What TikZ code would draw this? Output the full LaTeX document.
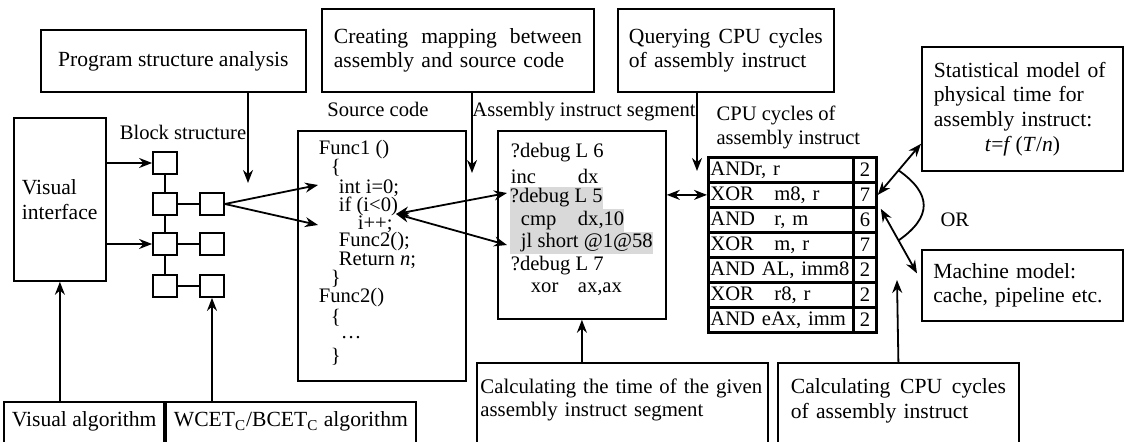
\documentclass[tikz,border=0pt]{standalone}
\usepackage{fontspec}
\setmainfont{Liberation Serif}
\usetikzlibrary{arrows.meta}
\definecolor{hlgray}{RGB}{217,217,217}

\begin{document}
\begin{tikzpicture}[x=0.5pt,y=-0.5pt,line width=0.9pt,
    >={Stealth[length=6.5pt,width=5pt]},
    font=\fontsize{10.3}{12}\selectfont]%[shorten >=1pt,->]

  \tikzstyle{box}=[draw,anchor=north west,inner xsep=4pt,inner ysep=0pt,
                   font=\fontsize{10.8}{12.3}\selectfont]
  \tikzstyle{openbox}=[box,text depth=50pt]
  \tikzstyle{blk}=[draw,minimum width=12pt,minimum height=11pt,inner sep=0pt]
  \tikzstyle{code}=[anchor=west,inner sep=0pt]
  \tikzstyle{hl}=[code,fill=hlgray,minimum height=11.3pt]
  \tikzstyle{cell}=[draw,line width=1.4pt,anchor=north west,
                    minimum height=12.5pt,inner sep=0pt]

  \useasboundingbox (0,0) rectangle (1125,442);

  % boxes
  \node[box,minimum width=132.5pt,minimum height=31pt] (psa) at (40,29)
    {Program structure analysis};
  \node[box,minimum width=136pt,minimum height=41.5pt,text width=124pt,
        align=left] (cm) at (321,8)
    {Creating\hfill mapping\hfill between\\assembly and source code};
  \node[box,minimum width=108pt,minimum height=41.5pt,text width=97pt,
        align=left] (qc) at (617,8)
    {Querying\hfill CPU\hfill cycles\\of assembly instruct};
  \node[box,minimum width=46pt,minimum height=81.5pt,text width=38pt,
        align=left] (vi) at (13,117) {Visual\\interface};
  \node[box,minimum width=84pt,minimum height=125pt] (sc) at (297,130) {};
  \node[box,minimum width=84pt,minimum height=94pt] (as) at (497,130) {};
  \node[box,minimum width=100.5pt,minimum height=62pt,text width=88.5pt,
        align=left] (sm) at (921,46)
    {Statistical model of\\physical time for\\assembly instruct:\\
     \makebox[88.5pt]{\textit{t}=\textit{f}\,(\textit{T}/\textit{n})}};
  \node[box,minimum width=100.5pt,minimum height=35.5pt,text width=89pt,
        align=left] (mm) at (921,249) {Machine model:\\cache, pipeline etc.};
  \node[openbox,inner ysep=5pt,minimum width=75.5pt] (va) at (3,401)
    {Visual algorithm};
  \node[openbox,inner ysep=5pt,minimum width=115.5pt] (wa) at (165,401)
    {WCET\textsubscript{C}/BCET\textsubscript{C} algorithm};
  \node[openbox,inner ysep=8pt,minimum width=145.5pt,text width=142pt,
        inner xsep=1.75pt,align=left,font=\fontsize{10.4}{11.6}\selectfont]
    (ct) at (476,362)
    {Calculating the time of the given\\assembly instruct segment};
  \node[openbox,inner ysep=8pt,minimum width=120.5pt,text width=107.5pt,
        align=left] (cc) at (777,362)
    {Calculating\hfill CPU\hfill cycles\\of assembly instruct};

  % labels
  \node (bs) at (183,132) {Block structure};
  \node (scl) at (378,109) {Source code};
  \node (asl) at (584,112) {Assembly instruct segment};
  \node[align=left,anchor=west] (cpl) at (709,127)
    {CPU cycles of\\assembly instruct};
  \node[anchor=west] (or) at (933,220) {OR};

  % block structure
  \foreach \name/\x/\y in {b-1/165/163, b-2/165/204, b-3/165/244, b-4/165/286,
                           c-2/212/204, c-3/212/244, c-4/212/286}
    \node[blk] (\name) at (\x,\y) {};
  \draw (b-1) -- (b-2) -- (b-3) -- (b-4);
  \foreach \i in {2,3,4}
    \draw (b-\i) -- (c-\i);

  % source code
  \foreach \name/\x/\y/\txt in {f1/318/150/{Func1 ()}, ob1/330/168/\{,
                                int/338/188/{int i=0;}, if/338/206/{if (i<0)},
                                inc/357/224/{i++;}, call/338/242/{Func2();},
                                ret/338/260/{Return \textit{n};}, cb1/330/279/\},
                                f2/318/298/{Func2()}, ob2/330/318/\{,
                                dots/340/338/\dots, cb2/330/357/\}}
    \node[code] (src-\name) at (\x,\y) {\txt};

  % assembly segment
  \foreach \name/\x/\y/\txt in {1/510/153/{?debug L 6},
                                2/510/176/{\makebox[33.5pt][l]{inc}dx},
                                6/510/266/{?debug L 7},
                                7/530/289/{\makebox[23.5pt][l]{xor}ax,ax}}
    \node[code] (asm-\name) at (\x,\y) {\txt};
  \foreach \name/\y/\txt in {3/198/{?debug L 5},
                             4/220.5/{\hspace*{5.5pt}\makebox[28.5pt][l]{cmp}dx,10},
                             5/243/{\hspace*{5.5pt}jl short @1@58}}
    \node[hl] (asm-\name) at (509,\y) {\txt};

  % cycle table
  \foreach \i/\opc/\cyc in {1/{ANDr, r}/2, 2/{\makebox[32pt][l]{XOR}m8, r}/7,
                            3/{\makebox[32pt][l]{AND}r, m}/6,
                            4/{\makebox[32pt][l]{XOR}m, r}/7,
                            5/{AND AL, imm8}/2, 6/{\makebox[32pt][l]{XOR}r8, r}/2,
                            7/{AND eAx, imm}/2}
  {
    \node[cell,minimum width=72.5pt,text width=70.5pt,align=left,inner xsep=1pt]
      (op-\i) at (707,131+25*\i) {\opc};
    \node[cell,minimum width=11.5pt] (cy-\i) at (852,131+25*\i) {\cyc};
  }

  % connectors
  \draw[->] (vi.east |- b-1) -- (b-1);
  \draw[->] (vi.east |- b-3) -- (b-3);
  \coordinate (in-1) at (318,185);
  \coordinate (in-2) at (318,225);
  \draw[->] (c-2.east) -- (in-1);
  \draw[->] (c-2.east) -- (in-2);
  \coordinate (psa-end) at (248,183);
  \draw[->] (psa.south -| psa-end) -- (psa-end);
  \coordinate (cm-end) at (472,173);
  \draw[->] (cm.south -| cm-end) -- (cm-end);
  \coordinate (qc-end) at (697,171);
  \draw[->] (qc.south -| qc-end) -- (qc-end);
  \coordinate (if-end) at (396,214);
  \coordinate (map-1) at (507,193);
  \coordinate (map-2) at (507,245);
  \draw[<->] (if-end) -- (map-1);
  \draw[<->] (if-end) -- (map-2);
  \draw[<->] (as.east |- op-2) -- (op-2.west);
  \draw[<->] (cy-2.east) -- coordinate[pos=0.48] (or-a)
    ([yshift=14pt]sm.south west);
  \draw[<->] ([xshift=1.5pt]cy-2.south east) -- coordinate[pos=0.49] (or-b)
    ([xshift=-2pt,yshift=6pt]mm.west);
  \draw (or-a) to[out=-35,in=35,looseness=1.5] (or-b);
  \draw[->] (ct.north -| as.south) -- (as.south);
  \draw[->] (va.north -| vi.south) -- (vi.south);
  \draw[->] (wa.north -| c-4.south) -- (c-4.south);
  \coordinate (cc-end) at (897,280);
  \draw[->] (cc.north) -- (cc-end);
\end{tikzpicture}
\end{document}
